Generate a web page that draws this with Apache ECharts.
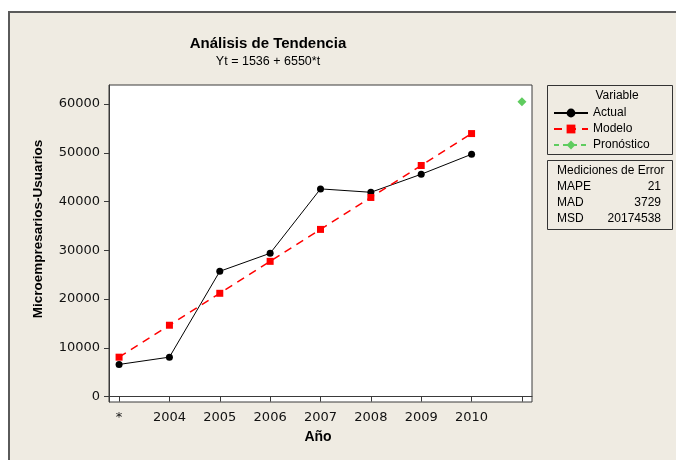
<!DOCTYPE html>
<html>
<head>
<meta charset="utf-8">
<script src="https://cdn.jsdelivr.net/npm/echarts@6/dist/echarts.min.js"></script>
<style>
  html, body { margin: 0; padding: 0; background: #fff; }
  #chart { width: 676px; height: 460px; }
</style>
</head>
<body>
<div id="chart"></div>
<script>
// posiciones del eje X (t = 1..9) y sus etiquetas
var tValues = [1, 2, 3, 4, 5, 6, 7, 8, 9];
var xLabels = ["*", "2004", "2005", "2006", "2007", "2008", "2009", "2010", ""];
var yTicks = [0, 10000, 20000, 30000, 40000, 50000, 60000];

// datos
var actual = [6600, 8100, 25700, 29400, 42600, 41900, 45600, 49700];
var modelo = [8090, 14640, 21190, 27740, 34290, 40840, 47390, 53940];
var pronosticoT = [9];
var pronostico = [60490];

// mediciones de error
var errLabels = ["MAPE", "MAD", "MSD"];
var errValues = ["21", "3729", "20174538"];

var chart = echarts.init(document.getElementById("chart"));

function pairs(xs, ys) {
  var out = [];
  for (var i = 0; i < ys.length; i++) out.push([xs[i], ys[i]]);
  return out;
}

var sans = "Liberation Sans";
var graphics = [
  // marco de fondo
  { type: "rect", shape: { x: 9, y: 12, width: 700, height: 480 },
    style: { fill: "#efebe2", stroke: "#5a5a5a", lineWidth: 2 }, z: -10 },
  { type: "text", x: 268, y: 44,
    style: { text: "Análisis de Tendencia", font: "bold 15px " + sans, fill: "#000",
             align: "center", verticalAlign: "middle" } },
  { type: "text", x: 268, y: 62,
    style: { text: "Yt = 1536 + 6550*t", font: "12.5px " + sans, fill: "#000",
             align: "center", verticalAlign: "middle" } },
  { type: "text", x: 38, y: 229, rotation: Math.PI / 2,
    style: { text: "Microempresarios-Usuarios", font: "bold 13.5px " + sans, fill: "#000",
             align: "center", verticalAlign: "middle" } },
  { type: "text", x: 318, y: 437,
    style: { text: "Año", font: "bold 14px " + sans, fill: "#000",
             align: "center", verticalAlign: "middle" } },
  // caja de leyenda
  { type: "rect", shape: { x: 547.5, y: 85.5, width: 125, height: 69 },
    style: { fill: "none", stroke: "#333", lineWidth: 1 } },
  { type: "text", x: 617, y: 96,
    style: { text: "Variable", font: "12px " + sans, fill: "#000",
             align: "center", verticalAlign: "middle" } },
  // caja de errores
  { type: "rect", shape: { x: 547.5, y: 160.5, width: 125, height: 69 },
    style: { fill: "none", stroke: "#333", lineWidth: 1 } },
  { type: "text", x: 557, y: 171,
    style: { text: "Mediciones de Error", font: "12px " + sans, fill: "#000",
             align: "left", verticalAlign: "middle" } }
];
errLabels.forEach(function (lab, i) {
  graphics.push({ type: "text", x: 557, y: 187 + i * 16,
    style: { text: lab, font: "12px " + sans, fill: "#000", align: "left", verticalAlign: "middle" } });
  graphics.push({ type: "text", x: 661, y: 187 + i * 16,
    style: { text: errValues[i], font: "12px " + sans, fill: "#000", align: "right", verticalAlign: "middle" } });
});

// una leyenda por serie, para fijar cada fila
var seriesNames = ["Actual", "Modelo", "Pronóstico"];
var legends = seriesNames.map(function (name, i) {
  return {
    left: 553, top: 107 + i * 16, padding: 0,
    itemWidth: 34, itemHeight: 11, itemGap: 0,
    selectedMode: false,
    data: [name],
    textStyle: { fontFamily: sans, fontSize: 12, color: "#000", lineHeight: 12 }
  };
});

var option = {
  animation: false,
  backgroundColor: "#fff",
  graphic: graphics,
  grid: {
    left: 109, top: 85, width: 423, height: 317,
    show: true, backgroundColor: "#fff", borderColor: "#3a3a3a", borderWidth: 1
  },
  legend: legends,
  xAxis: {
    type: "value", min: 0.8, max: 9.2,
    splitLine: { show: false },
    axisLine: { show: true, lineStyle: { color: "#3a3a3a" } },
    axisTick: { show: true, length: 5, customValues: tValues, lineStyle: { color: "#3a3a3a" } },
    axisLabel: {
      customValues: tValues, margin: 9,
      fontFamily: "DejaVu Sans", fontSize: 13, color: "#111",
      formatter: function (v) { return xLabels[Math.round(v) - 1]; }
    }
  },
  yAxis: {
    type: "value", min: -1100, max: 63900,
    splitLine: { show: false },
    axisLine: { show: true, lineStyle: { color: "#3a3a3a" } },
    axisTick: { show: true, length: 5, customValues: yTicks, lineStyle: { color: "#3a3a3a" } },
    axisLabel: {
      customValues: yTicks, margin: 9,
      fontFamily: "DejaVu Sans", fontSize: 13, color: "#111",
      formatter: function (v) { return String(v); }
    }
  },
  series: [
    {
      name: "Actual", type: "line",
      data: pairs(tValues, actual),
      symbol: "circle", symbolSize: 7,
      itemStyle: { color: "#000" },
      lineStyle: { color: "#000", width: 1 }
    },
    {
      name: "Modelo", type: "line",
      data: pairs(tValues, modelo),
      symbol: "rect", symbolSize: 7,
      itemStyle: { color: "#ff0000" },
      lineStyle: { color: "#ff0000", width: 1.5, type: [8, 6] }
    },
    {
      name: "Pronóstico", type: "line",
      data: pairs(pronosticoT, pronostico),
      symbol: "diamond", symbolSize: 9,
      itemStyle: { color: "#5fcc5f" },
      lineStyle: { color: "#5fcc5f", width: 1.5, type: [5, 4] }
    }
  ]
};

chart.setOption(option);
</script>
</body>
</html>
